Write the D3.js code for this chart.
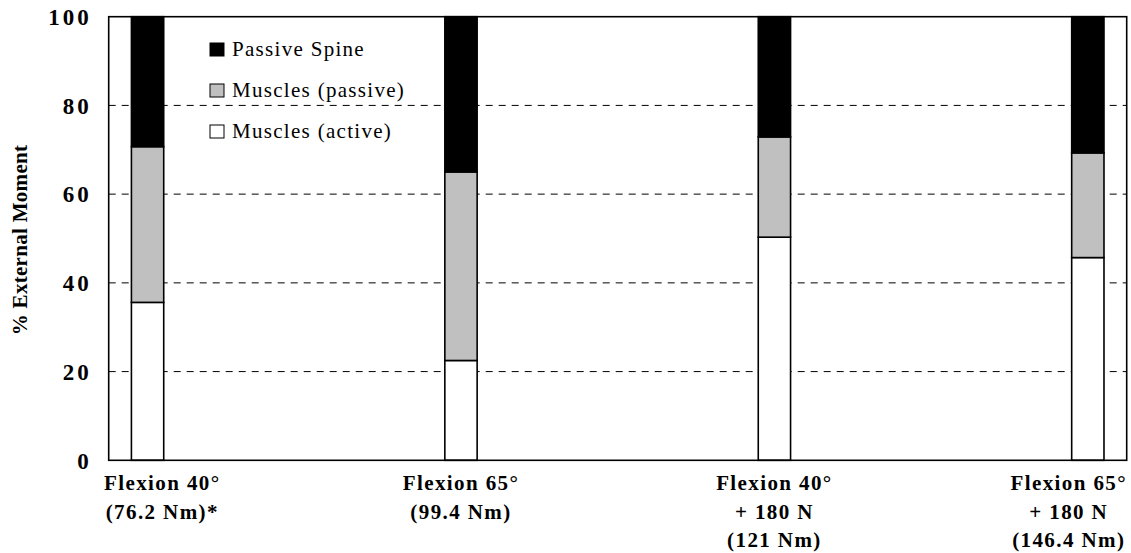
<!DOCTYPE html>
<html><head><meta charset="utf-8">
<script src="https://cdn.jsdelivr.net/npm/d3@7"></script>
<style>body{margin:0;background:#fff}svg{display:block}</style>
</head><body>
<svg id="c" width="1131" height="553"></svg>
<script>
const categories = [
  ["Flexion 40°", "(76.2 Nm)*"],
  ["Flexion 65°", "(99.4 Nm)"],
  ["Flexion 40°", "+ 180 N", "(121 Nm)"],
  ["Flexion 65°", "+ 180 N", "(146.4 Nm)"]
];
const musclesActive  = [35.6, 22.5, 50.3, 45.7];
const musclesPassive = [35.1, 42.5, 22.6, 23.6];
const passiveSpine   = [29.3, 35.0, 27.1, 30.7];
const seriesNames = ["Passive Spine", "Muscles (passive)", "Muscles (active)"];
const seriesColors = ["#000000", "#c0c0c0", "#ffffff"];
const yTicks = [0, 20, 40, 60, 80, 100];
const yTitle = "% External Moment";

const svg = d3.select("#c");
const m = {left: 108.7, right: 1126.7, top: 16.7, bottom: 460.3};
const font = "'Liberation Serif','Times New Roman',serif";

const y = d3.scaleLinear().domain([0, 100]).range([m.bottom, m.top]);
const x = d3.scalePoint().domain(d3.range(categories.length)).range([m.left, m.right]).padding(0.124);
const bw = 32.3;

// gridlines
svg.append("g").selectAll("line").data(yTicks.filter(t => t > 0 && t < 100)).join("line")
  .attr("x1", m.left).attr("x2", m.right)
  .attr("y1", d => y(d)).attr("y2", d => y(d))
  .attr("stroke", "#000").attr("stroke-width", 1).attr("stroke-dasharray", "7,6");

// stacked bars
const rows = categories.map((c, i) => ({i, active: musclesActive[i], passive: musclesPassive[i], spine: passiveSpine[i]}));
const stack = d3.stack().keys(["active", "passive", "spine"])(rows);
const colorFor = {active: seriesColors[2], passive: seriesColors[1], spine: seriesColors[0]};
stack.forEach(layer => {
  svg.append("g").selectAll("rect").data(layer).join("rect")
    .attr("x", d => x(d.data.i) - bw / 2)
    .attr("width", bw)
    .attr("y", d => y(Math.min(d[1], 100)))
    .attr("height", d => y(d[0]) - y(Math.min(d[1], 100)))
    .attr("fill", colorFor[layer.key])
    .attr("stroke", "#000").attr("stroke-width", 1.6);
});

// plot border
svg.append("rect").attr("x", m.left).attr("y", m.top)
  .attr("width", m.right - m.left).attr("height", m.bottom - m.top)
  .attr("fill", "none").attr("stroke", "#000").attr("stroke-width", 1.6);

// y axis labels via d3 axis
const yAxis = svg.append("g").attr("transform", `translate(${m.left},0)`)
  .call(d3.axisLeft(y).tickValues(yTicks).tickSize(0).tickPadding(17));
yAxis.select(".domain").remove();
yAxis.selectAll("text").attr("font-family", font).attr("font-size", 23).attr("font-weight", "bold")
  .attr("letter-spacing", "3px").attr("fill", "#000").attr("dy", "0.34em");

// y title
svg.append("text").attr("transform", `translate(27,${240}) rotate(-90)`)
  .attr("text-anchor", "middle").attr("font-family", font).attr("font-size", 21).attr("font-weight", "bold")
  .attr("letter-spacing", "0.3px")
  .text(yTitle);

// x labels
categories.forEach((lines, i) => {
  const g = svg.append("text").attr("font-family", font).attr("font-size", 21).attr("font-weight", "bold")
    .attr("letter-spacing", "1.4px").attr("text-anchor", "middle");
  lines.forEach((t, k) => g.append("tspan").attr("x", 0).attr("y", 490 + k * 28.5).text(t));
  const w = g.node().getBBox().width;
  let cx = x(i);
  cx = Math.max(cx, 104 + w / 2);
  cx = Math.min(cx, 1127 - w / 2);
  g.selectAll("tspan").attr("x", cx);
});

// legend
const lg = svg.append("g");
seriesNames.forEach((n, k) => {
  const yy = 56 + k * 41;
  lg.append("rect").attr("x", 210).attr("y", yy - 13).attr("width", 14).attr("height", 13)
    .attr("fill", seriesColors[k]).attr("stroke", "#000").attr("stroke-width", 1);
  lg.append("text").attr("x", 232).attr("y", yy).attr("font-family", font).attr("font-size", 21)
    .attr("letter-spacing", "1.3px").text(n);
});
</script>
</body></html>
